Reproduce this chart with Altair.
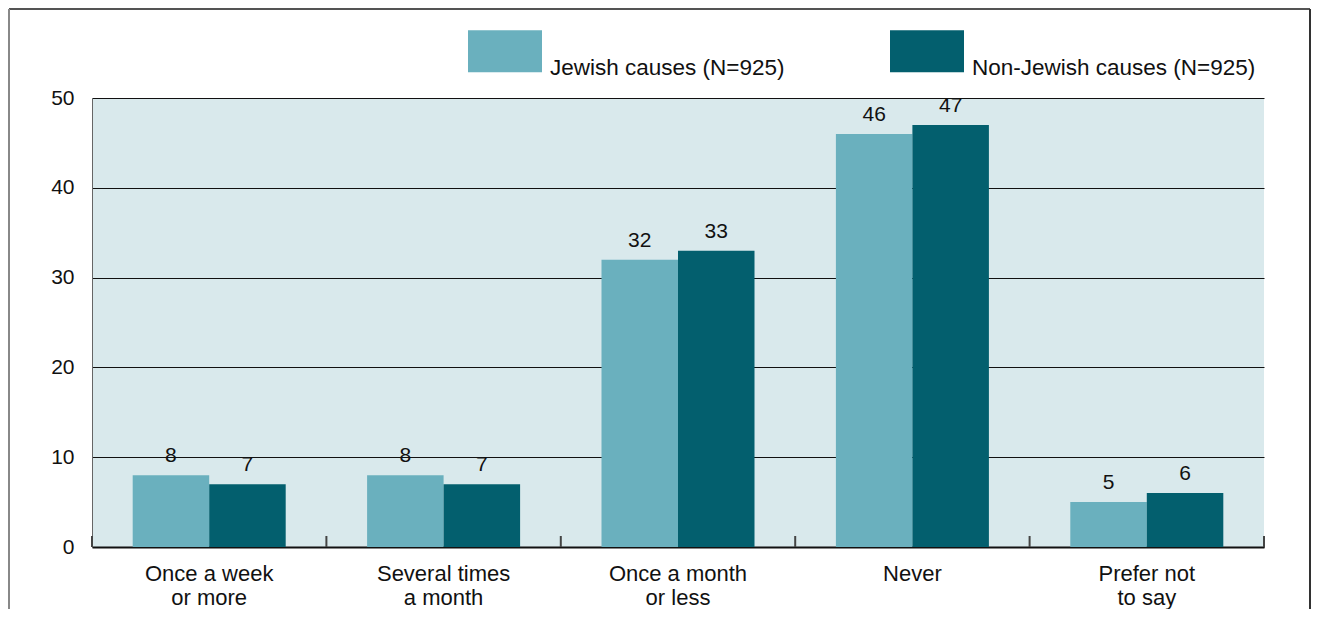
import altair as alt
import pandas as pd

categories = ["Once a week|or more", "Several times|a month", "Once a month|or less", "Never", "Prefer not|to say"]
jewish = [8, 8, 32, 46, 5]
non_jewish = [7, 7, 33, 47, 6]
series = ["Jewish causes (N=925)", "Non-Jewish causes (N=925)"]
colors = ["#6ab0be", "#035f6e"]
y_ticks = [0, 10, 20, 30, 40, 50]

rows = []
for c, a, b in zip(categories, jewish, non_jewish):
    rows.append({"cat": c, "series": series[0], "value": a})
    rows.append({"cat": c, "series": series[1], "value": b})
df = pd.DataFrame(rows)
cat_df = pd.DataFrame({"cat": categories})

W, H = 1172, 449
FONT = "Liberation Sans"

x_enc = alt.X(
    "cat:N", sort=categories,
    scale=alt.Scale(paddingInner=0, paddingOuter=0),
    axis=alt.Axis(title=None, labelAngle=0, ticks=False, domainColor="#111", domainWidth=2,
                  labelFontSize=22, labelColor="#111", labelPadding=16,
                  labelExpr="split(datum.label, '|')", labelLineHeight=24),
)
xo_enc = alt.XOffset("series:N", sort=series, scale=alt.Scale(paddingOuter=0.532, paddingInner=0))
y_enc = alt.Y(
    "value:Q", scale=alt.Scale(domain=[0, 50], nice=False),
    axis=alt.Axis(values=y_ticks, title=None, ticks=False, grid=True, gridColor="#111", gridWidth=1,
                  domainColor="#666", domainWidth=1, labelFontSize=21, labelColor="#111", labelPadding=18),
)

bars = alt.Chart(df).mark_bar().encode(
    x=x_enc, xOffset=xo_enc, y=y_enc,
    color=alt.Color("series:N", sort=series, scale=alt.Scale(domain=series, range=colors),
                    legend=alt.Legend(orient="none", legendX=376, legendY=-67, direction="horizontal",
                                      title=None, symbolType="M-1,-1.03H1V0.11H-1Z", symbolSize=5476,
                                      symbolStrokeWidth=0, symbolOpacity=1, labelFontSize=22.5,
                                      labelOffset=8, columnPadding=105, labelColor="#111",
                                      labelLimit=400, padding=0)),
)

labels = alt.Chart(df).mark_text(dy=-9, baseline="bottom", fontSize=21, color="#111").encode(
    x=alt.X("cat:N", sort=categories), xOffset=alt.XOffset("series:N", sort=series), y="value:Q",
    text="value:Q",
)

ticks = alt.Chart(cat_df).mark_rule(color="#444", strokeWidth=2).encode(
    x=alt.X("cat:N", sort=categories, bandPosition=0), y=alt.value(H), y2=alt.value(H - 11)
)
end_tick = alt.Chart(cat_df).transform_filter(alt.datum.cat == categories[-1]).mark_rule(
    color="#444", strokeWidth=2).encode(
    x=alt.X("cat:N", sort=categories, bandPosition=1), y=alt.value(H), y2=alt.value(H - 11)
)

frame_top = alt.Chart(cat_df).mark_rule(color="#555", strokeWidth=1.5).encode(
    x=alt.value(-83), x2=alt.value(1218), y=alt.value(-89))
frame_left = alt.Chart(cat_df).mark_rule(color="#888", strokeWidth=1.5).encode(
    x=alt.value(-83), y=alt.value(-89), y2=alt.value(H + 100))
frame_right = alt.Chart(cat_df).mark_rule(color="#333", strokeWidth=1.5).encode(
    x=alt.value(1218), y=alt.value(-89), y2=alt.value(H + 100))

chart = alt.layer(bars, labels, ticks, end_tick, frame_top, frame_left, frame_right).properties(
    width=W, height=H,
    autosize=alt.AutoSizeParams(type="none"),
    padding={"left": 84, "top": 90, "right": 47, "bottom": 62},
).configure(font=FONT).configure_view(fill="#d9e9ec", stroke=None)

chart.save("out.html", embed_options={"renderer": "svg", "actions": False})
